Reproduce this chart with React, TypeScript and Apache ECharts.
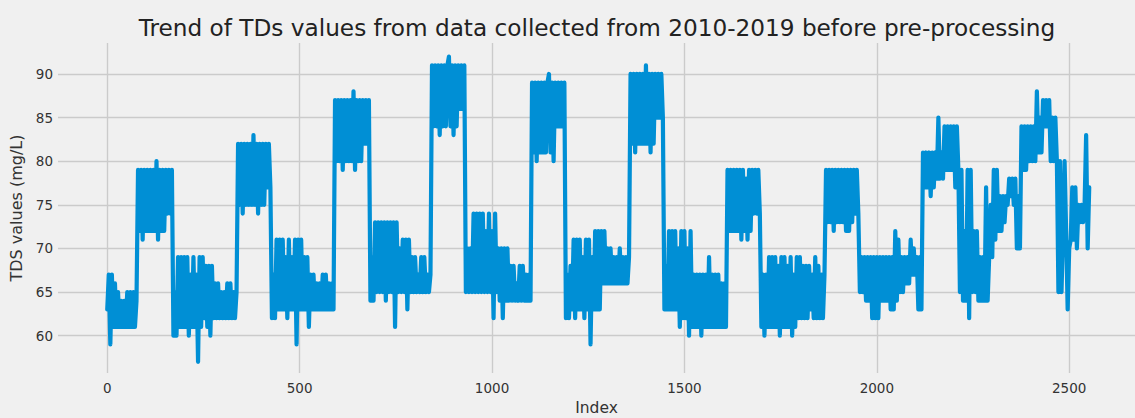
import React, { useEffect, useRef } from "react";
import * as echarts from "echarts";

// Readings are taken every SAMPLE_STEP index positions along the record.
const SAMPLE_STEP = 4;

// TDS values (mg/L), segment by segment (index 0 .. 2552)
const block01 = [63, 67, 59, 67, 61, 66, 61, 65, 61, 64, 61, 64, 61, 65, 61, 65, 61, 65, 61, 64];
const block02 = [79, 72, 79, 71, 79, 72, 79, 72, 79, 72, 79, 72, 80, 71, 79, 72, 79, 72, 79, 74, 79, 74, 79];
const block03 = [60, 65, 60, 69, 61, 69, 61, 69, 61, 69, 60, 67, 61, 69, 61, 67, 57, 69, 61, 69, 62, 68, 61, 68, 60, 68, 62, 66, 62, 66, 62, 65, 62, 65, 62, 66, 62, 66, 62, 65, 62, 65];
const block04 = [82, 75, 82, 74, 82, 75, 82, 75, 82, 75, 83, 75, 82, 74, 82, 75, 82, 75, 82, 77, 82, 77];
const block05 = [62, 67, 62, 71, 63, 71, 63, 71, 63, 69, 62, 71, 63, 69, 63, 71, 59, 71, 63, 71, 63, 69, 63, 69, 61, 67, 63, 67, 63, 66, 63, 66, 63, 67, 63, 67, 63, 66, 63, 66, 63];
const block06 = [87, 80, 87, 80, 87, 79, 87, 80, 87, 80, 87, 80, 88, 79, 87, 80, 87, 80, 87, 82, 87, 82, 87];
const block07 = [64, 69, 64, 73, 65, 73, 65, 73, 65, 73, 64, 73, 65, 73, 65, 73, 61, 73, 65, 70, 65, 71, 65, 71, 63, 71, 65, 69, 65, 69, 65, 67, 65, 69, 65, 69, 65, 67, 65, 67];
const block08 = [91, 84, 91, 84, 91, 83, 91, 84, 91, 84, 91, 92, 84, 91, 83, 91, 84, 91, 86, 91, 86, 91];
const block09 = [65, 70, 65, 70, 65, 74, 65, 74, 65, 74, 65, 74, 65, 72, 65, 74, 65, 72, 62, 74, 65, 70, 64, 70, 62, 70, 64, 70, 64, 68, 64, 68, 64, 66, 64, 68, 64, 68, 64, 67, 64, 67, 64];
const block10 = [89, 81, 89, 80, 89, 81, 89, 81, 89, 81, 89, 90, 81, 89, 80, 89, 84, 89, 84, 89, 84, 89];
const block11 = [62, 67, 62, 68, 63, 71, 62, 71, 63, 71, 63, 69, 62, 71, 63, 71, 59, 69, 63, 72, 63, 72, 63, 72, 66, 72, 66, 70, 66, 70, 66, 69, 66, 69, 66, 70, 66, 69, 66, 69, 66, 69];
const block12 = [90, 82, 90, 81, 90, 82, 90, 82, 90, 82, 91, 82, 90, 81, 90, 82, 90, 85, 90, 85, 90, 85];
const block13 = [63, 68, 63, 72, 63, 72, 63, 72, 63, 70, 61, 72, 62, 72, 62, 70, 60, 72, 61, 67, 61, 67, 61, 67, 60, 67, 61, 67, 61, 69, 61, 67, 61, 67, 61, 67, 61, 66, 61, 66, 61];
const block14 = [79, 72, 79, 72, 79, 72, 79, 72, 79, 71, 79, 72, 78, 71, 79, 72, 79, 74, 79, 74, 79, 74];
const block15 = [61, 67, 60, 67, 61, 69, 61, 69, 61, 69, 61, 68, 60, 69, 61, 69, 61, 68, 61, 69, 60, 67, 61, 69, 62, 69, 62, 68, 62, 68, 62, 68, 63, 67, 62, 69, 62, 68, 62, 67, 62, 67];
const block16 = [79, 73, 79, 73, 79, 72, 79, 73, 79, 73, 79, 73, 79, 72, 79, 72, 79, 73, 79, 74, 79, 74];
const block17 = [65, 69, 65, 69, 64, 69, 64, 69, 62, 69, 62, 69, 62, 69, 64, 69, 64, 69, 64, 69, 63, 69, 63, 72, 64, 71, 65, 69, 65, 69, 66, 69, 66, 71, 67, 70, 67, 69, 63, 69, 63];
const block18 = [81, 77, 81, 77, 81, 76, 81, 77, 81, 78, 85, 78, 81, 78, 84, 79, 84, 79, 84, 79, 84, 77, 84, 79, 65, 79, 64, 72, 64, 79, 62, 79, 65, 72, 65, 72, 64, 69, 64, 69, 64, 77, 64, 69, 75, 69, 79, 71, 79, 72, 76, 72, 76, 73, 76, 75, 78, 76, 78, 75, 78, 70];
const block19 = [76, 70, 84, 79, 84, 79, 84, 80, 84, 80, 84, 80, 88, 81, 85, 81, 87, 84, 87, 84, 87, 80, 85, 80, 85, 80, 65, 80, 65, 72, 80, 72, 63, 70, 71, 77, 71, 77, 70, 75, 73, 75, 73, 75, 83, 70, 77];

const segments = [
  block01, block02, block03, block04, block05, block06, block07, block08, block09, block10,
  block11, block12, block13, block14, block15, block16, block17, block18, block19,
];

const xTicks = [0, 500, 1000, 1500, 2000, 2500];
const yTicks = [60, 65, 70, 75, 80, 85, 90];

const titleText = "Trend of TDs values from data collected from 2010-2019 before pre-processing";
const xName = "Index";
const yName = "TDS values (mg/L)";

const FONT = "DejaVu Sans";

export default function App() {
  const ref = useRef<HTMLDivElement>(null);

  useEffect(() => {
    if (!ref.current) return;
    const chart = echarts.init(ref.current, null, { renderer: "svg" });
    const values = segments.flat();
    const data = values.map((v, i) => [i * SAMPLE_STEP, v]);

    chart.setOption({
      animation: false,
      backgroundColor: "#f0f0f0",
      textStyle: { fontFamily: FONT },
      graphic: [
        {
          type: "text",
          x: 597,
          y: 27,
          style: {
            text: titleText,
            fontSize: 23.2,
            fontFamily: FONT,
            fill: "#222222",
            align: "center",
            verticalAlign: "middle",
          },
        },
      ],
      grid: { left: 58, right: 0, top: 43, bottom: 45, outerBoundsMode: "none" },
      xAxis: {
        type: "value",
        min: -128,
        max: 2671,
        name: xName,
        nameLocation: "middle",
        nameGap: 26,
        nameTextStyle: { fontSize: 15.5, color: "#333333", fontFamily: FONT },
        axisLine: { show: false },
        axisTick: { show: false, customValues: xTicks },
        axisLabel: {
          customValues: xTicks,
          formatter: (v: number) => String(v),
          fontSize: 13.5,
          color: "#333333",
          margin: 8,
          fontFamily: FONT,
        },
        splitLine: { show: true, lineStyle: { color: "#cbcbcb", width: 1.4 } },
      },
      yAxis: {
        type: "value",
        min: 55.72,
        max: 93.55,
        name: yName,
        nameLocation: "middle",
        nameGap: 25,
        nameTextStyle: { fontSize: 16, color: "#333333", fontFamily: FONT },
        axisLine: { show: false },
        axisTick: { show: false, customValues: yTicks },
        axisLabel: {
          customValues: yTicks,
          formatter: (v: number) => String(v),
          fontSize: 13.5,
          color: "#333333",
          margin: 5,
          fontFamily: FONT,
        },
        splitLine: { show: true, lineStyle: { color: "#cbcbcb", width: 1.4 } },
      },
      series: [
        {
          type: "line",
          data,
          showSymbol: false,
          symbol: "none",
          silent: true,
          lineStyle: { color: "#008fd5", width: 4.2, join: "round", cap: "round" },
        },
      ],
    });

    return () => chart.dispose();
  }, []);

  return (
    <div
      ref={ref}
      style={{ position: "absolute", left: 0, top: 0, width: 1135, height: 418 }}
    />
  );
}
